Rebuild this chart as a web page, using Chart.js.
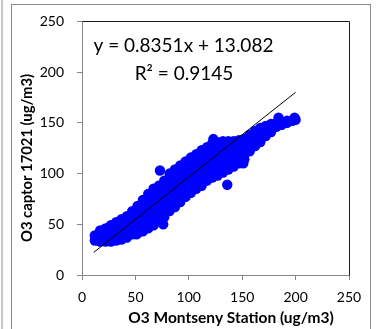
<!DOCTYPE html>
<html>
<head>
<meta charset="utf-8">
<script src="https://cdn.jsdelivr.net/npm/chart.js@4.4.0/dist/chart.umd.min.js"></script>
<style>
  body { margin: 0; background: #fff; }
  #wrap { position: relative; width: 376px; height: 329px; overflow: hidden; }
  #band { position: absolute; left: 1px; top: 0; width: 2px; height: 329px; background: #c8c8c8; }
  #frame { position: absolute; left: 11px; top: 4px; width: 360px; height: 330px; border: 1px solid #8c8c8c; box-sizing: border-box; }
  canvas { position: absolute; left: 0; top: 0; }
</style>
</head>
<body>
<div id="wrap">
  <div id="band"></div>
  <div id="frame"></div>
  <canvas id="chart" width="376" height="329"></canvas>
</div>
<script>
// O3 Montseny station (x) columns and the captor readings seen in each column (y)
const stationX = [12, 17, 22, 27, 32, 37, 42, 47, 52, 57, 62, 67, 72, 77, 82, 87, 92, 97, 102,
  107, 112, 117, 122, 127, 132, 137, 142, 147, 152, 157, 162, 167, 172, 177, 182, 187, 192, 197];
const captorY = [
  [34, 39],
  [33, 38, 44],
  [33, 39, 46],
  [33, 39, 44, 49],
  [34, 40, 46, 52],
  [35, 41, 47, 52, 55],
  [37, 42, 48, 53, 58],
  [40, 45, 50, 56, 63],
  [41, 46, 52, 58, 63, 68],
  [43, 48, 54, 60, 66, 71, 74],
  [46, 52, 58, 64, 70, 75, 80],
  [49, 55, 61, 67, 73, 79, 85],
  [53, 59, 65, 71, 77, 83, 88],
  [57, 63, 69, 75, 81, 87, 93],
  [63, 69, 75, 81, 87, 93, 100],
  [67, 73, 79, 85, 91, 97, 104],
  [72, 78, 84, 90, 96, 102, 108],
  [77, 83, 89, 95, 101, 107, 112],
  [81, 87, 93, 99, 105, 111, 116],
  [85, 91, 97, 103, 109, 114, 119],
  [88, 94, 100, 106, 112, 118, 123],
  [93, 99, 105, 111, 116, 121, 126],
  [96, 102, 108, 114, 119, 125, 130],
  [98, 104, 110, 116, 121, 126, 131],
  [101, 107, 113, 118, 123, 128, 132],
  [104, 110, 116, 121, 126, 132],
  [107, 113, 118, 123, 128, 132],
  [110, 116, 121, 126, 130, 133],
  [114, 119, 124, 129, 134],
  [122, 128, 133, 138],
  [127, 132, 137, 142],
  [131, 136, 141, 145],
  [137, 142, 147],
  [141, 145, 149],
  [146, 150],
  [148, 151],
  [150, 152],
  [152]
];
// stray points sticking out of the cloud
const outliers = [[51, 40], [73, 103], [76, 50], [123, 134], [136, 89], [151, 110], [184, 155], [200, 153], [199, 155]];

// linear fit shown on the chart
const trendLine = [[11, 22.3], [200, 180.1]];
const equationText = 'y = 0.8351x + 13.082';
const r2Text = 'R\u00b2 = 0.9145';

const axisTicks = [0, 50, 100, 150, 200, 250];
const xTitle = 'O3 Montseny Station (ug/m3)';
const yTitle = 'O3 captor 17021 (ug/m3)';

const points = [];
stationX.forEach((x, i) => {
    captorY[i].forEach(y => points.push({ x: x, y: y }));
});
outliers.forEach(p => points.push({ x: p[0], y: p[1] }));

const FONT = 'Lato, "DejaVu Sans", sans-serif';

// plot box (top/right edges), equation and axis titles
const boxPlugin = {
    id: 'box',
    afterDraw(chart) {
        const ctx = chart.ctx;
        const a = chart.chartArea;
        ctx.save();
        ctx.strokeStyle = '#1a1a1a';
        ctx.lineWidth = 1;
        ctx.beginPath();
        ctx.moveTo(Math.round(a.left) + 0.5, Math.round(a.top) + 0.5);
        ctx.lineTo(Math.round(a.right) + 0.5, Math.round(a.top) + 0.5);
        ctx.lineTo(Math.round(a.right) + 0.5, Math.round(a.bottom) + 0.5);
        ctx.stroke();

        const xs = chart.scales.x, ys = chart.scales.y;
        ctx.fillStyle = '#000';
        ctx.font = '19px ' + FONT;
        ctx.textAlign = 'center';
        ctx.textBaseline = 'middle';
        ctx.fillText(equationText, xs.getPixelForValue(95), ys.getPixelForValue(226));
        ctx.fillText(r2Text, xs.getPixelForValue(95.5), ys.getPixelForValue(198.5));

        ctx.font = 'bold 15.5px ' + FONT;
        ctx.fillText(xTitle, 231, 318);
        ctx.translate(27, 158);
        ctx.rotate(-Math.PI / 2);
        ctx.font = 'bold 14.8px ' + FONT;
        ctx.fillText(yTitle, 0, 0);
        ctx.restore();
    }
};

const ctx = document.getElementById('chart').getContext('2d');
new Chart(ctx, {
    type: 'scatter',
    data: {
        datasets: [{
            type: 'line',
            data: trendLine.map(p => ({ x: p[0], y: p[1] })),
            borderColor: '#000',
            borderWidth: 1,
            pointRadius: 0,
            fill: false,
            order: 0
        }, {
            data: points,
            backgroundColor: '#0000ff',
            borderColor: '#0000ff',
            borderWidth: 0,
            pointRadius: 5.2,
            order: 1
        }]
    },
    options: {
        responsive: false,
        animation: false,
        events: [],
        layout: { padding: { left: 0, top: 17, right: 27, bottom: 0 } },
        plugins: { legend: { display: false }, tooltip: { enabled: false } },
        scales: {
            x: {
                type: 'linear',
                min: 0,
                max: 250,
                afterBuildTicks: s => { s.ticks = axisTicks.map(v => ({ value: v })); },
                afterFit: s => { s.height = 54; },
                grid: { drawOnChartArea: false, tickLength: 5, color: '#868686' },
                border: { color: '#868686' },
                ticks: { color: '#000', font: { family: FONT, size: 14 }, padding: 9, maxRotation: 0 }
            },
            y: {
                type: 'linear',
                min: 0,
                max: 250,
                afterBuildTicks: s => { s.ticks = axisTicks.map(v => ({ value: v })); },
                afterFit: s => { s.width = 82; },
                grid: { drawOnChartArea: false, tickLength: 5, color: '#868686' },
                border: { color: '#868686' },
                ticks: { color: '#000', font: { family: FONT, size: 14 }, padding: 13 }
            }
        }
    },
    plugins: [boxPlugin]
});
</script>
</body>
</html>
